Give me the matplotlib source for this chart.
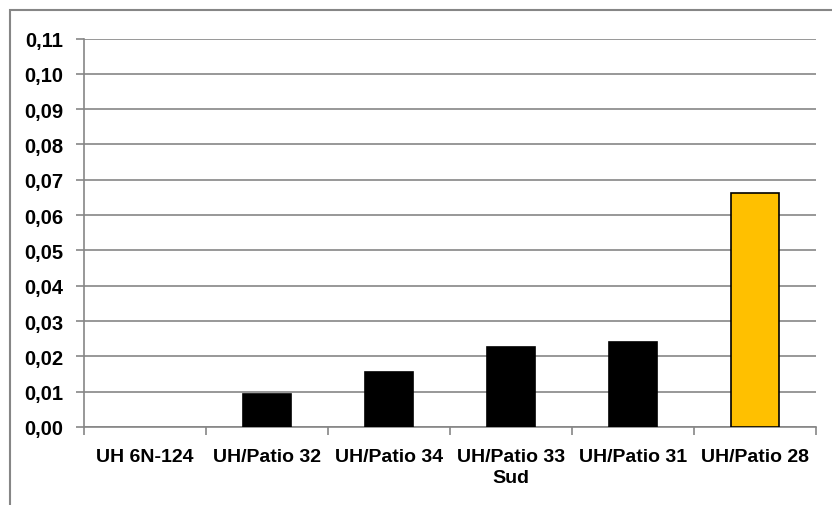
import numpy as np
import matplotlib
matplotlib.use("Agg")
import matplotlib.pyplot as plt
from matplotlib.patches import Rectangle
from matplotlib.ticker import FuncFormatter

categories = ["UH 6N-124", "UH/Patio 32", "UH/Patio 34", "UH/Patio 33\nSud", "UH/Patio 31", "UH/Patio 28"]
values = [0.0, 0.0093, 0.0157, 0.0227, 0.0240, 0.0662]
colors = ["black", "black", "black", "black", "black", "#FFC000"]

plt.rcParams['font.family'] = ['Liberation Sans', 'DejaVu Sans']
grey = "#868686"

fig = plt.figure(figsize=(8.32, 5.06), dpi=100)
ax = fig.add_axes([84/832, 1 - 428/506, (816-84)/832, (428-39.5)/506])

# chart border (only top and left visible in the crop)
fig.patches.append(Rectangle((9.5/832, -0.1), 1.2, 1 - 10.5/506 + 0.1,
                             transform=fig.transFigure, fill=False,
                             edgecolor=grey, linewidth=1.5))

x = np.arange(len(categories))
edges = ["black" if v > 0 else "none" for v in values]
ax.bar(x, values, width=0.4, color=colors, edgecolor=edges, linewidth=1.2, zorder=3)

ax.set_xlim(-0.5, len(categories) - 0.5)
ax.set_ylim(0, 0.11)
ax.set_yticks(np.arange(0, 0.111, 0.01))
ax.yaxis.set_major_formatter(FuncFormatter(lambda v, p: f"{v:.2f}".replace(".", ",")))
ax.grid(axis="y", color=grey, linewidth=1.2, zorder=0)

ax.set_xticks(x)
ax.set_xticklabels(categories, linespacing=1.35)
ax.set_xticks(np.arange(-0.5, len(categories)), minor=True)
ax.tick_params(axis="x", which="major", length=0, pad=15)
ax.tick_params(axis="x", which="minor", length=6, width=1.2, color=grey, direction="out")
ax.tick_params(axis="y", length=6, width=1.2, color=grey, direction="out", pad=9)

for lab in ax.get_xticklabels():
    lab.set_fontweight("bold")
    lab.set_fontsize(14)
for lab in ax.get_yticklabels():
    lab.set_fontweight("bold")
    lab.set_fontsize(14.5)

for s in ["top", "right"]:
    ax.spines[s].set_visible(False)
for s in ["left", "bottom"]:
    ax.spines[s].set_color(grey)
    ax.spines[s].set_linewidth(1.2)

fig.savefig("out.png", dpi=100)
